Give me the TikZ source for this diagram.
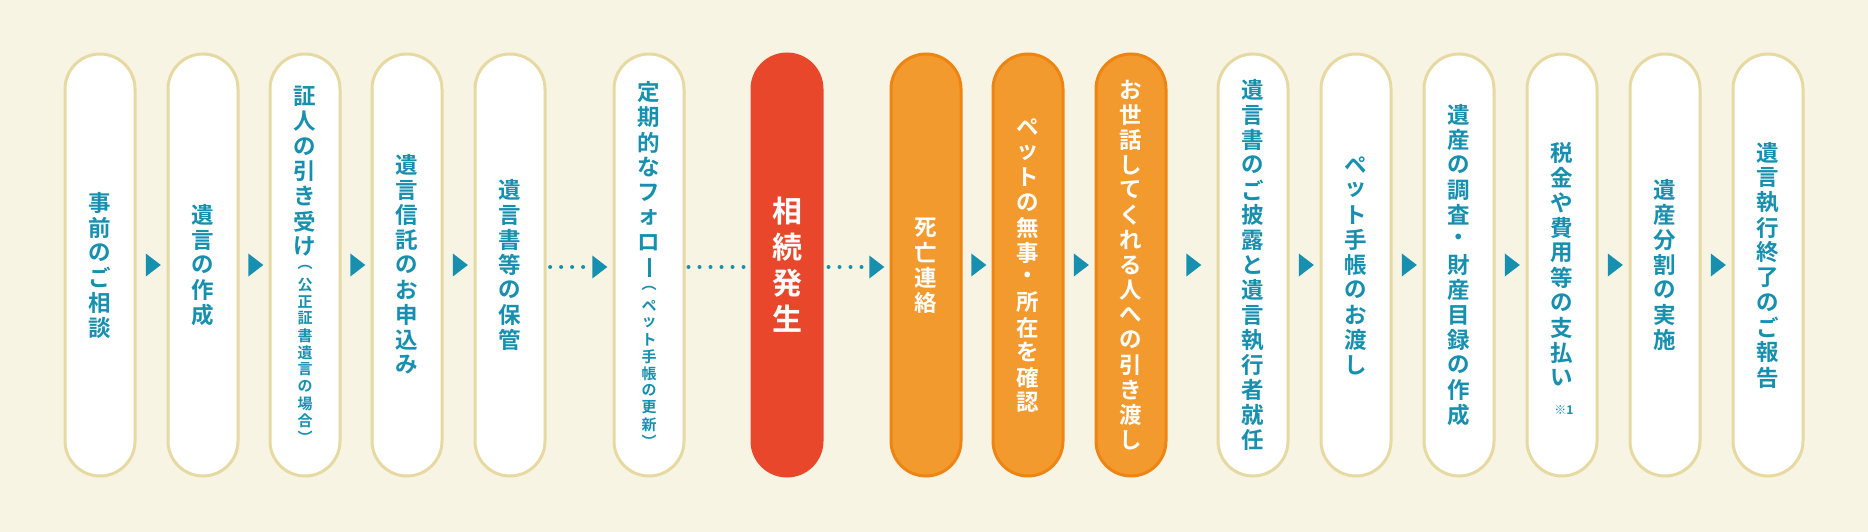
\documentclass[tikz,border=0pt]{standalone}
\usepackage{fontspec}
\setmainfont{Noto Sans CJK JP Bold}
\usetikzlibrary{shapes.geometric,calc}

\definecolor{bgcream}{HTML}{F8F4E4}
\definecolor{pillline}{HTML}{E6D9A2}
\definecolor{teal}{HTML}{1790B0}
\definecolor{redfill}{HTML}{E8472B}
\definecolor{orangefill}{HTML}{F29A2E}
\definecolor{orangeline}{HTML}{EE8412}

% vertical stacking of characters
\newlength\vtpitch
\def\vtend{\vtend}
\def\vbar{\rule{3pt}{19pt}}
\def\vtloop#1{\ifx#1\vtend\else\hbox to 36pt{\hss\vbox to\vtpitch{\vss\hbox{#1}\vss}\hss}\expandafter\vtloop\fi}
\newcommand\vtxt[2][]{\vbox{\offinterlineskip
  \fontsize{22.5}{24}\selectfont\setlength\vtpitch{25pt}\vtloop#2\vtend
  \fontsize{15}{17}\selectfont\setlength\vtpitch{17pt}\vtloop#1\vtend}}
\newcommand\vbig[1]{\vbox{\offinterlineskip
  \fontsize{30}{32}\selectfont\setlength\vtpitch{36pt}\vtloop#1\vtend}}

\tikzset{
  pill/.style={draw=pillline, line width=3pt, fill=white, rounded corners=35pt,
    minimum width=70pt, minimum height=422pt, inner sep=0pt, text=teal},
  keypill/.style={pill, draw=redfill, fill=redfill, text=white},
  carepill/.style={pill, draw=orangeline, fill=orangefill, text=white},
  tri/.style={isosceles triangle, isosceles triangle apex angle=75, fill=teal,
    inner sep=0pt, minimum width=18pt, minimum height=15pt},
  dotline/.style={teal, line width=4pt, line cap=round, dash pattern=on 0pt off 11pt}
}

\begin{document}
\begin{tikzpicture}[x=1pt,y=-1pt]
  \fill[bgcream] (0,0) rectangle (1868,532);
  \useasboundingbox (0,0) rectangle (1868,532);

  \node[pill] (b1) at (100,265) {\vtxt{事前のご相談}};
  \node[pill] (b2) at (203,265) {\vtxt{遺言の作成}};
  \node[pill] (b3) at (305,265) {\vtxt[︵公正証書遺言の場合︶]{証人の引き受け}};
  \node[pill] (b4) at (407,265) {\vtxt{遺言信託のお申込み}};
  \node[pill] (b5) at (510,265) {\vtxt{遺言書等の保管}};
  \node[pill] (b6) at (649,265) {\vtxt[︵ペット手帳の更新︶]{定期的なフォロ\vbar}};
  \node[keypill] (b7) at (787,265) {\vbig{相続発生}};
  \node[carepill] (b8) at (926,265) {\vtxt{死亡連絡}};
  \node[carepill] (b9) at (1028,265) {\vtxt{ペットの無事・所在を確認}};
  \node[carepill] (b10) at (1131,265) {\vtxt{お世話してくれる人への引き渡し}};
  \node[pill] (b11) at (1253,265) {\vtxt{遺言書のご披露と遺言執行者就任}};
  \node[pill] (b12) at (1356,265) {\vtxt{ペット手帳のお渡し}};
  \node[pill] (b13) at (1459,265) {\vtxt{遺産の調査・財産目録の作成}};
  \node[pill] (b14) at (1562,265) {\vtxt{税金や費用等の支払い}};
  \node[pill] (b15) at (1665,265) {\vtxt{遺産分割の実施}};
  \node[pill] (b16) at (1768,265) {\vtxt{遺言執行終了のご報告}};
  \node[text=teal, font=\fontsize{12}{12}\selectfont] (n1) at (1564,410) {※1};

  % plain steps
  \foreach \i/\j in {1/2,2/3,3/4,4/5,8/9,9/10,10/11,11/12,12/13,13/14,14/15,15/16}
    \node[tri] (t\i) at ($(b\i)!0.5!(b\j)$) {};

  % dotted steps
  \node[tri] (t5) at (598,267) {};
  \draw[dotline] ($(t5.west)+(-42,0)$) -- (t5.west);
  \draw[dotline] ($(b6.east)+(3,2)$) -- ($(b7.west)+(-5,2)$);
  \node[tri] (t7) at (875,267) {};
  \draw[dotline] ($(b7.east |- t7)+(5,0)$) -- (t7.west);
\end{tikzpicture}
\end{document}
